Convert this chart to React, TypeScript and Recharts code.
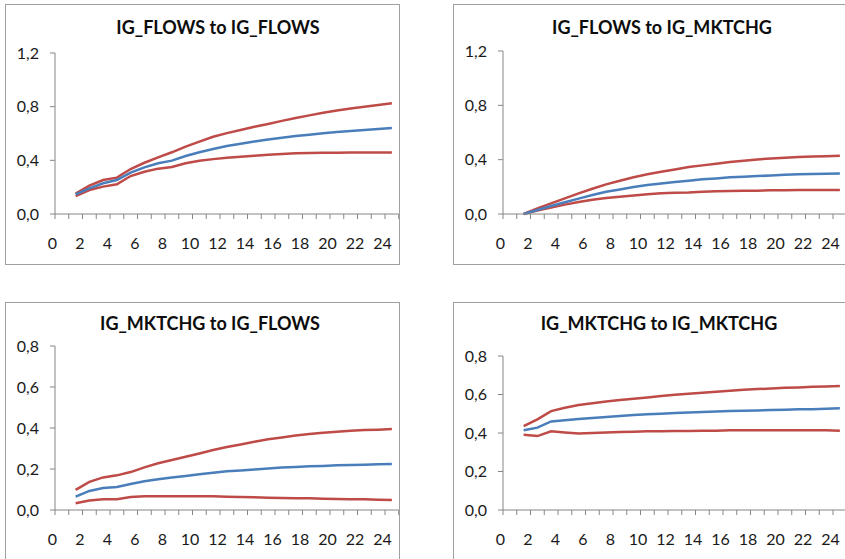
import { LineChart, Line, XAxis, YAxis } from 'recharts'

// ─── Data ─────────────────────────────────────────────────────────────────────

const periods = [1, 2, 3, 4, 5, 6, 7, 8, 9, 10, 11, 12, 13, 14, 15, 16, 17, 18, 19, 20, 21, 22, 23, 24]
const xLabels = [0, 2, 4, 6, 8, 10, 12, 14, 16, 18, 20, 22, 24]

const flowsToFlowsMid = [0.147, 0.191, 0.229, 0.253, 0.308, 0.348, 0.378, 0.398, 0.432, 0.46, 0.484, 0.507, 0.524, 0.541, 0.556, 0.569, 0.581, 0.591, 0.601, 0.611, 0.618, 0.626, 0.633, 0.641]
const flowsToFlowsUpper = [0.152, 0.211, 0.253, 0.271, 0.335, 0.382, 0.422, 0.46, 0.502, 0.54, 0.576, 0.603, 0.626, 0.65, 0.671, 0.694, 0.715, 0.735, 0.755, 0.771, 0.787, 0.8, 0.813, 0.825]
const flowsToFlowsLower = [0.134, 0.179, 0.204, 0.221, 0.283, 0.315, 0.338, 0.35, 0.378, 0.397, 0.409, 0.42, 0.427, 0.435, 0.442, 0.447, 0.452, 0.454, 0.457, 0.457, 0.459, 0.459, 0.459, 0.459]

const flowsToMktMid = [0, 0.029, 0.059, 0.086, 0.113, 0.14, 0.164, 0.181, 0.199, 0.213, 0.225, 0.235, 0.245, 0.255, 0.262, 0.27, 0.275, 0.279, 0.284, 0.289, 0.292, 0.294, 0.297, 0.299]
const flowsToMktUpper = [0, 0.042, 0.078, 0.115, 0.152, 0.186, 0.218, 0.245, 0.27, 0.292, 0.311, 0.328, 0.346, 0.358, 0.37, 0.382, 0.392, 0.402, 0.409, 0.414, 0.419, 0.424, 0.426, 0.429]
const flowsToMktLower = [0, 0.025, 0.047, 0.069, 0.088, 0.105, 0.118, 0.127, 0.137, 0.145, 0.152, 0.157, 0.159, 0.164, 0.167, 0.169, 0.172, 0.172, 0.174, 0.174, 0.176, 0.176, 0.176, 0.177]

const mktToFlowsMid = [0.065, 0.093, 0.107, 0.112, 0.127, 0.14, 0.15, 0.158, 0.166, 0.174, 0.182, 0.189, 0.193, 0.198, 0.203, 0.207, 0.21, 0.213, 0.215, 0.218, 0.22, 0.221, 0.223, 0.224]
const mktToFlowsUpper = [0.098, 0.137, 0.159, 0.169, 0.185, 0.208, 0.228, 0.244, 0.26, 0.276, 0.293, 0.307, 0.32, 0.333, 0.345, 0.354, 0.363, 0.371, 0.377, 0.382, 0.387, 0.39, 0.392, 0.395]
const mktToFlowsLower = [0.033, 0.046, 0.052, 0.052, 0.063, 0.067, 0.067, 0.067, 0.067, 0.067, 0.067, 0.065, 0.063, 0.062, 0.06, 0.059, 0.057, 0.057, 0.055, 0.054, 0.052, 0.052, 0.05, 0.049]

const mktToMktMid = [0.414, 0.428, 0.46, 0.466, 0.473, 0.478, 0.483, 0.488, 0.493, 0.497, 0.5, 0.504, 0.507, 0.509, 0.512, 0.514, 0.516, 0.517, 0.519, 0.521, 0.523, 0.524, 0.526, 0.528]
const mktToMktUpper = [0.436, 0.471, 0.514, 0.531, 0.545, 0.555, 0.564, 0.571, 0.578, 0.585, 0.592, 0.599, 0.604, 0.609, 0.614, 0.619, 0.625, 0.628, 0.631, 0.635, 0.637, 0.64, 0.642, 0.644]
const mktToMktLower = [0.391, 0.384, 0.409, 0.403, 0.397, 0.4, 0.403, 0.405, 0.407, 0.409, 0.409, 0.41, 0.41, 0.412, 0.412, 0.414, 0.414, 0.414, 0.414, 0.414, 0.414, 0.414, 0.414, 0.412]

const ticksWide = [0, 0.4, 0.8, 1.2]
const ticksNarrow = [0, 0.2, 0.4, 0.6, 0.8]

// ─── Layout ───────────────────────────────────────────────────────────────────

const FONT = 'Lato, "Open Sans", sans-serif'
const BLUE = '#4a7ebb'
const RED = '#be4b48'
const AXIS = '#868686'
const TEXT = '#1a1a1a'
const PLOT_W = 343.75
const Y_W = 50
const X_H = 40

interface Box { x: number; y: number; w: number; h: number }
interface Plot { left: number; top: number; bottom: number }

interface Panel {
  title: string
  titleX: number
  titleY: number
  box: Box
  plot: Plot
  ticks: number[]
  mid: number[]
  upper: number[]
  lower: number[]
}

const panels: Panel[] = [
  {
    title: 'IG_FLOWS to IG_FLOWS', titleX: 218, titleY: 27,
    box: { x: 5, y: 4, w: 395, h: 261 }, plot: { left: 55, top: 53, bottom: 214 },
    ticks: ticksWide, mid: flowsToFlowsMid, upper: flowsToFlowsUpper, lower: flowsToFlowsLower,
  },
  {
    title: 'IG_FLOWS to IG_MKTCHG', titleX: 662, titleY: 27,
    box: { x: 453, y: 4, w: 420, h: 261 }, plot: { left: 503, top: 51, bottom: 214 },
    ticks: ticksWide, mid: flowsToMktMid, upper: flowsToMktUpper, lower: flowsToMktLower,
  },
  {
    title: 'IG_MKTCHG to IG_FLOWS', titleX: 210, titleY: 323,
    box: { x: 5, y: 302, w: 395, h: 280 }, plot: { left: 55, top: 346, bottom: 510 },
    ticks: ticksNarrow, mid: mktToFlowsMid, upper: mktToFlowsUpper, lower: mktToFlowsLower,
  },
  {
    title: 'IG_MKTCHG to IG_MKTCHG', titleX: 659, titleY: 323,
    box: { x: 453, y: 302, w: 420, h: 280 }, plot: { left: 503, top: 356, bottom: 510 },
    ticks: ticksNarrow, mid: mktToMktMid, upper: mktToMktUpper, lower: mktToMktLower,
  },
]

// boundaries between categories carry the tick marks; labels sit on them
const boundaries = [-0.5, ...periods.map(p => p - 0.5), 24.5]

// ─── Axis tick ────────────────────────────────────────────────────────────────

function XTick({ x, y, payload }: { x?: number; y?: number; payload?: { value: number } }) {
  const label = (payload?.value ?? 0) + 0.5
  if (!xLabels.includes(label)) return <g />
  return (
    <text
      x={(x ?? 0) - 2.5}
      y={(y ?? 0) + 23}
      textAnchor="middle"
      dominantBaseline="central"
      fontSize={16}
      fontFamily={FONT}
      fill={TEXT}
    >
      {label}
    </text>
  )
}

// ─── Panel ────────────────────────────────────────────────────────────────────

function ChartPanel({ p }: { p: Panel }) {
  const data = periods.map((period, i) => ({
    period,
    mid: p.mid[i],
    upper: p.upper[i],
    lower: p.lower[i],
  }))
  const margin = {
    left: p.plot.left - p.box.x - Y_W,
    top: p.plot.top - p.box.y,
    right: p.box.x + p.box.w - p.plot.left - PLOT_W,
    bottom: p.box.y + p.box.h - p.plot.bottom - X_H,
  }
  const max = p.ticks[p.ticks.length - 1]

  return (
    <>
      <div
        style={{
          position: 'absolute', left: p.box.x, top: p.box.y,
          width: p.box.w - 2, height: p.box.h - 2,
          border: '1px solid #a0a0a0', background: '#fff',
        }}
      />
      <div
        style={{
          position: 'absolute', left: p.titleX - 200, top: p.titleY - 12, width: 400,
          lineHeight: '24px', textAlign: 'center', fontFamily: FONT,
          fontWeight: 700, fontSize: 18, color: '#0d0d0d',
        }}
      >
        {p.title}
      </div>
      <div style={{ position: 'absolute', left: p.box.x, top: p.box.y }}>
        <LineChart width={p.box.w} height={p.box.h} data={data} margin={margin}>
          <XAxis
            dataKey="period"
            type="number"
            domain={[-0.5, 24.5]}
            ticks={boundaries}
            interval={0}
            tick={<XTick />}
            tickSize={5}
            tickMargin={0}
            height={X_H}
            stroke={AXIS}
            allowDataOverflow
          />
          <YAxis
            domain={[0, max]}
            ticks={p.ticks}
            interval={0}
            width={Y_W}
            tickSize={5}
            tickMargin={11}
            stroke={AXIS}
            tickFormatter={(v: number) => v.toFixed(1).replace('.', ',')}
            tick={{ fontSize: 16, fill: TEXT, fontFamily: FONT }}
          />
          <Line dataKey="upper" stroke={RED} strokeWidth={2.5} dot={false} activeDot={false} isAnimationActive={false} />
          <Line dataKey="lower" stroke={RED} strokeWidth={2.5} dot={false} activeDot={false} isAnimationActive={false} />
          <Line dataKey="mid" stroke={BLUE} strokeWidth={2.5} dot={false} activeDot={false} isAnimationActive={false} />
        </LineChart>
      </div>
    </>
  )
}

export default function App() {
  return (
    <div
      style={{
        position: 'absolute', left: 0, top: 0, width: 845, height: 559,
        overflow: 'hidden', background: '#fff',
      }}
    >
      {panels.map(p => <ChartPanel key={p.title} p={p} />)}
    </div>
  )
}
